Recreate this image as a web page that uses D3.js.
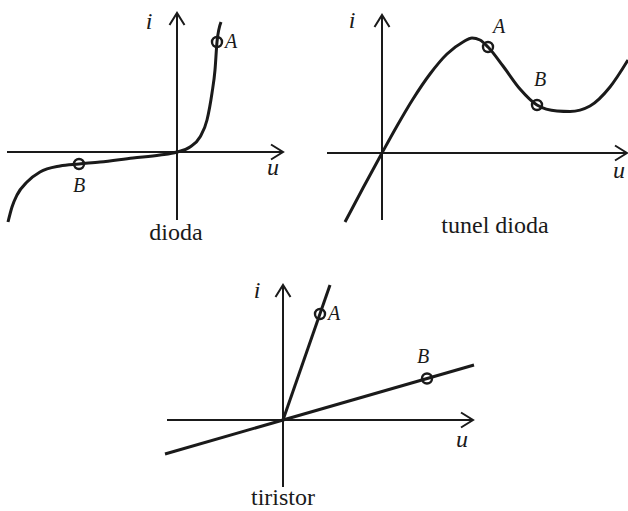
<!DOCTYPE html>
<html>
<head>
<meta charset="utf-8">
<script src="https://cdn.jsdelivr.net/npm/d3@7/dist/d3.min.js"></script>
<style>
  html, body { margin: 0; padding: 0; background: #fff; }
  svg { display: block; }
  text { font-family: "Liberation Serif", "Times New Roman", Times, serif; fill: #1a1a1a; }
  .sym { font-style: italic; }
</style>
</head>
<body>
<svg id="chart" width="628" height="511"></svg>
<script>
// Diode I–U characteristic (u, i in relative units)
const diodeU = [-16.9, -16.5, -16.0, -15.0, -13.7, -11.7, -9.8, -7.7, -4.4, -1.7, 0, 1.3, 2.3, 3.0, 3.5, 3.8, 4.0, 4.4];
const diodeI = [-7.0, -5.5, -4.3, -3.0, -2.0, -1.4, -1.2, -1.0, -0.6, -0.3, 0, 0.5, 1.5, 3.2, 5.9, 8.2, 11.0, 13.0];
const diodePoints = [
  { name: "A", u: 4.0, i: 11.0 },
  { name: "B", u: -9.8, i: -1.2 }
];

// Tunnel diode characteristic
const tunnelU = [-3.7, -1.9, 0, 1.5, 3.1, 4.8, 6.5, 8.1, 9.0, 9.8, 10.6, 12.1, 13.8, 15.5, 17.5, 18.8, 20.8, 22.8, 24.6];
const tunnelI = [-6.9, -3.5, 0, 2.7, 5.4, 7.9, 9.9, 11.1, 11.5, 11.3, 10.6, 8.7, 6.4, 4.8, 4.2, 4.15, 4.7, 6.6, 9.3];
const tunnelPoints = [
  { name: "A", u: 10.6, i: 10.6 },
  { name: "B", u: 15.5, i: 4.8 }
];

// Thyristor: conducting branch and blocking branch
const thyristorOnU = [0, 4.7];
const thyristorOnI = [0, 13.5];
const thyristorOffU = [-11.8, 19.1];
const thyristorOffI = [-3.4, 5.5];
const thyristorPoints = [
  { name: "A", u: 3.7, i: 10.6 },
  { name: "B", u: 14.4, i: 4.15 }
];

const captions = ["dioda", "tunel dioda", "tiristor"];

const ink = "#1a1a1a";
const svg = d3.select("#chart");

svg.append("defs").append("marker")
  .attr("id", "arrow")
  .attr("markerUnits", "userSpaceOnUse")
  .attr("viewBox", "-14 -9 16 18")
  .attr("refX", 0).attr("refY", 0)
  .attr("markerWidth", 16).attr("markerHeight", 18)
  .attr("orient", "auto")
  .append("path")
  .attr("d", "M-12,-7.5L0,0L-12,7.5")
  .attr("fill", "none")
  .attr("stroke", ink)
  .attr("stroke-width", 2)
  .attr("stroke-linejoin", "miter");

// Panel layout: origin in pixels, axis extents in data units, 10 px per unit
const panels = [
  { origin: [177, 152], uExt: [-17, 10.6], iExt: [-6.8, 13.9], caption: [176, 240],
    iLab: [-28, 16], uLab: [-10, 23],
    labOff: { A: [14, 6], B: [0, 28] } },
  { origin: [382, 153], uExt: [-5.5, 24.5], iExt: [-6.7, 13.8], caption: [495, 233],
    iLab: [-30, 13], uLab: [-8, 25],
    labOff: { A: [11, -14], B: [3, -19] } },
  { origin: [283, 420], uExt: [-11.6, 19.0], iExt: [-6.7, 13.5], caption: [283, 505],
    iLab: [-26, 13], uLab: [-11, 27],
    labOff: { A: [14, 6], B: [-4, -16] } }
];

panels.forEach(p => {
  const unit = 10;
  p.x = d3.scaleLinear().domain([0, 1]).range([p.origin[0], p.origin[0] + unit]);
  p.y = d3.scaleLinear().domain([0, 1]).range([p.origin[1], p.origin[1] - unit]);
});

function drawAxes(g, p) {
  const x = p.x, y = p.y;
  g.append("line")
    .attr("x1", x(p.uExt[0])).attr("y1", y(0))
    .attr("x2", x(p.uExt[1])).attr("y2", y(0))
    .attr("stroke", ink).attr("stroke-width", 2)
    .attr("marker-end", "url(#arrow)");
  g.append("line")
    .attr("x1", x(0)).attr("y1", y(p.iExt[0]))
    .attr("x2", x(0)).attr("y2", y(p.iExt[1]))
    .attr("stroke", ink).attr("stroke-width", 2)
    .attr("marker-end", "url(#arrow)");
  g.append("text").attr("class", "sym")
    .attr("x", x(0) + p.iLab[0]).attr("y", y(p.iExt[1]) + p.iLab[1])
    .attr("text-anchor", "middle").attr("font-size", 24).text("i");
  g.append("text").attr("class", "sym")
    .attr("x", x(p.uExt[1]) + p.uLab[0]).attr("y", y(0) + p.uLab[1])
    .attr("text-anchor", "middle").attr("font-size", 24).text("u");
}

function drawCurve(g, p, us, is, curve) {
  const line = d3.line()
    .x(d => p.x(d[0])).y(d => p.y(d[1]))
    .curve(curve);
  g.append("path")
    .attr("d", line(d3.zip(us, is)))
    .attr("fill", "none").attr("stroke", ink)
    .attr("stroke-width", 3).attr("stroke-linecap", "butt");
}

function drawPoints(g, p, pts) {
  pts.forEach(pt => {
    const cx = p.x(pt.u), cy = p.y(pt.i);
    g.append("circle")
      .attr("cx", cx).attr("cy", cy).attr("r", 5)
      .attr("fill", "none").attr("stroke", ink).attr("stroke-width", 2.4);
    const off = p.labOff[pt.name];
    g.append("text").attr("class", "sym")
      .attr("x", cx + off[0]).attr("y", cy + off[1])
      .attr("text-anchor", "middle").attr("font-size", 20).text(pt.name);
  });
}

function drawCaption(g, p, label) {
  g.append("text")
    .attr("x", p.caption[0]).attr("y", p.caption[1])
    .attr("text-anchor", "middle").attr("font-size", 24).text(label);
}

// dioda
const g0 = svg.append("g");
drawAxes(g0, panels[0]);
drawCurve(g0, panels[0], diodeU, diodeI, d3.curveMonotoneX);
drawPoints(g0, panels[0], diodePoints);
drawCaption(g0, panels[0], captions[0]);

// tunel dioda
const g1 = svg.append("g");
drawAxes(g1, panels[1]);
drawCurve(g1, panels[1], tunnelU, tunnelI, d3.curveMonotoneX);
drawPoints(g1, panels[1], tunnelPoints);
drawCaption(g1, panels[1], captions[1]);

// tiristor
const g2 = svg.append("g");
drawAxes(g2, panels[2]);
drawCurve(g2, panels[2], thyristorOnU, thyristorOnI, d3.curveLinear);
drawCurve(g2, panels[2], thyristorOffU, thyristorOffI, d3.curveLinear);
drawPoints(g2, panels[2], thyristorPoints);
drawCaption(g2, panels[2], captions[2]);
</script>
</body>
</html>
